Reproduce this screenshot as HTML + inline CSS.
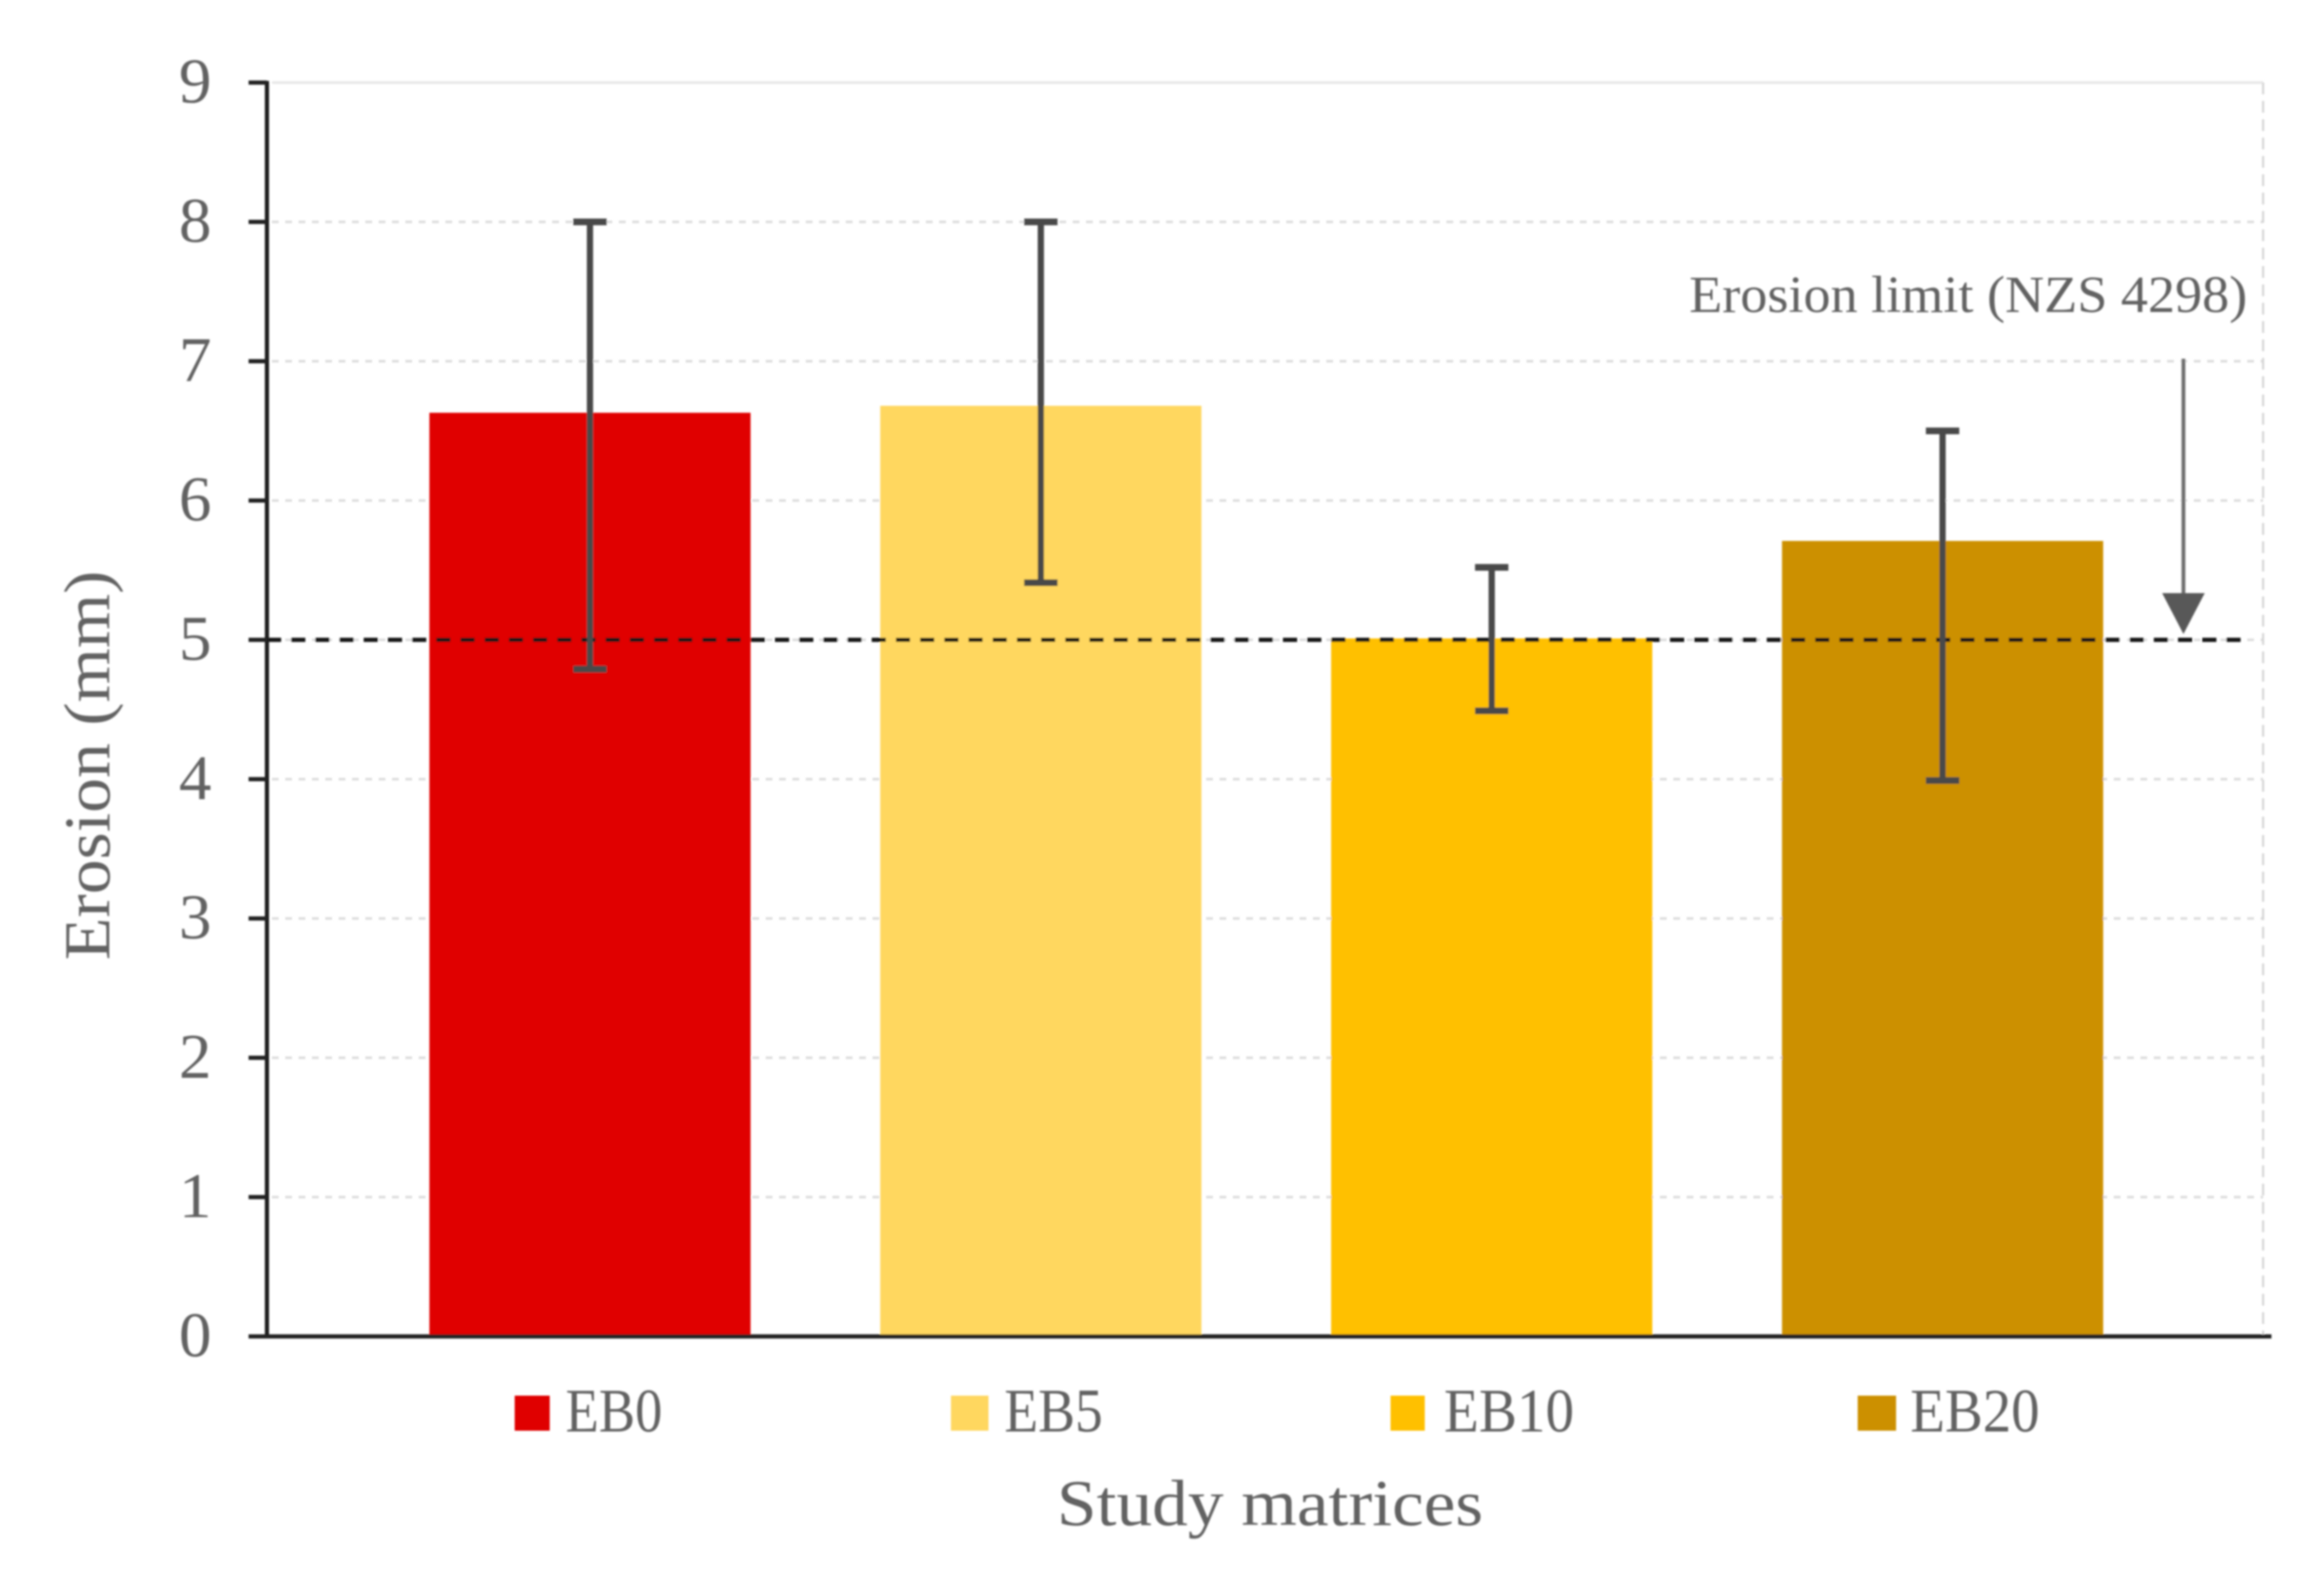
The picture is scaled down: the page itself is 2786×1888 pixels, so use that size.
<!DOCTYPE html>
<html lang="en">
<head>
<meta charset="utf-8">
<title>Erosion by study matrix</title>
<style>
html,body{margin:0;padding:0;background:#fff;width:2786px;height:1888px;overflow:hidden}
svg{display:block}
text{font-family:"Liberation Serif",serif;fill:#626262}
</style>
</head>
<body>
<svg id="chart" xmlns="http://www.w3.org/2000/svg" width="2786" height="1888" viewBox="0 0 2786 1888">
  <defs>
    <filter id="soft" x="-2%" y="-2%" width="104%" height="104%"><feGaussianBlur stdDeviation="1"/></filter>
  </defs>
  <rect width="2786" height="1888" fill="#fff"/>
  <g id="root" filter="url(#soft)">
    <g id="grid"></g>
    <g id="bars"></g>
    <g id="limit"></g>
    <g id="errors"></g>
    <g id="axes"></g>
    <g id="yticks"></g>

    <text transform="translate(131,1151) rotate(-90)" font-size="78" textLength="467" lengthAdjust="spacingAndGlyphs">Erosion (mm)</text>
    <text x="1267" y="1828" font-size="78" textLength="511" lengthAdjust="spacingAndGlyphs">Study matrices</text>
    <text x="2025" y="374" font-size="62" textLength="669" lengthAdjust="spacingAndGlyphs">Erosion limit (NZS 4298)</text>

    <g>
      <line x1="2617.5" y1="430" x2="2617.5" y2="715" stroke="#6e6e6e" stroke-width="4.5"/>
      <polygon points="2592,711 2643,711 2617.5,760" fill="#595959"/>
    </g>

    <g>
      <g>
        <rect x="617" y="1673" width="42" height="42" fill="#e00000"/>
        <text x="678" y="1716" font-size="74" textLength="116" lengthAdjust="spacingAndGlyphs">EB0</text>
      </g>
      <g>
        <rect x="1140" y="1673" width="45" height="42" fill="#ffd75e"/>
        <text x="1204" y="1716" font-size="74" textLength="118" lengthAdjust="spacingAndGlyphs">EB5</text>
      </g>
      <g>
        <rect x="1667" y="1673" width="41" height="42" fill="#ffc000"/>
        <text x="1731" y="1716" font-size="74" textLength="156" lengthAdjust="spacingAndGlyphs">EB10</text>
      </g>
      <g>
        <rect x="2227" y="1673" width="46" height="42" fill="#cc9000"/>
        <text x="2290" y="1716" font-size="74" textLength="155" lengthAdjust="spacingAndGlyphs">EB20</text>
      </g>
    </g>
  </g>
</svg>
<script>
const categories = ['EB0', 'EB5', 'EB10', 'EB20'];
const erosionValues = [6.63, 6.68, 5.01, 5.71];
const errorHigh = [8.0, 8.0, 5.52, 6.5];
const errorLow = [4.79, 5.41, 4.49, 3.99];
const barColors = ['#e00000', '#ffd75e', '#ffc000', '#cc9000'];
const yTickLabels = [0, 1, 2, 3, 4, 5, 6, 7, 8, 9];
const erosionLimit = 5;

const NS = 'http://www.w3.org/2000/svg';
const plotLeft = 320, plotRight = 2713, axisRight = 2723;
const yZero = 1602, yUnit = 167;
const bandLeft = 437, bandStep = 540.5, barWidth = 385, capHalf = 20;

function yScale(v) { return yZero - v * yUnit; }
function xCenter(i) { return bandLeft + bandStep * (i + 0.5); }
function make(tag, parent, attrs) {
  const el = document.createElementNS(NS, tag);
  for (const k in attrs) el.setAttribute(k, attrs[k]);
  parent.appendChild(el);
  return el;
}

const gridG = document.getElementById('grid');
const barsG = document.getElementById('bars');
const limitG = document.getElementById('limit');
const errG = document.getElementById('errors');
const axesG = document.getElementById('axes');
const tickG = document.getElementById('yticks');

yTickLabels.forEach(function (t) {
  const y = yScale(t);
  if (t > 0) {
    const top = t === yTickLabels[yTickLabels.length - 1];
    const gl = make('line', gridG, {
      x1: plotLeft + 6, x2: plotRight, y1: y, y2: y,
      stroke: top ? '#e6e6e6' : '#dcdcdc', 'stroke-width': 3,
      'stroke-dasharray': top ? 'none' : '8 8'
    });
    
    
  }
  const tk = make('line', tickG, {
    x1: 298, x2: plotLeft, y1: y, y2: y, stroke: '#222', 'stroke-width': 5
  });
  
  
  const lb = make('text', tickG, {
    x: 234, y: y + 24, 'font-size': 76, 'text-anchor': 'middle',
    textLength: 39, lengthAdjust: 'spacingAndGlyphs'
  });
  lb.textContent = String(t);
  
  
});

const rightEdge = make('line', gridG, {
  x1: plotRight, x2: plotRight, y1: yScale(9), y2: yZero,
  stroke: '#d4d4d4', 'stroke-width': 2.5, 'stroke-dasharray': '14 8'
});



categories.forEach(function (c, i) {
  const b = make('rect', barsG, {
    x: xCenter(i) - barWidth / 2,
    y: yScale(erosionValues[i]),
    width: barWidth,
    height: yZero - yScale(erosionValues[i]),
    fill: barColors[i]
  });
  
  
});

const limitLine = make('line', limitG, {
  x1: plotLeft, x2: 2690, y1: yScale(erosionLimit), y2: yScale(erosionLimit),
  stroke: '#161616', 'stroke-width': 5, 'stroke-dasharray': '17 12'
});



categories.forEach(function (c, i) {
  const x = xCenter(i);
  const hi = yScale(errorHigh[i]);
  const lo = yScale(errorLow[i]);
  const stem = make('line', errG, { x1: x, x2: x, y1: hi, y2: lo, stroke: '#4a4a4a', 'stroke-width': 7.5 });
  
  
  const capTop = make('line', errG, { x1: x - capHalf, x2: x + capHalf, y1: hi, y2: hi, stroke: '#4a4a4a', 'stroke-width': 8 });
  
  
  const capLow = make('line', errG, { x1: x - capHalf, x2: x + capHalf, y1: lo, y2: lo, stroke: '#4a4a4a', 'stroke-width': 8 });
  
  
});

const yAxis = make('line', axesG, { x1: plotLeft, x2: plotLeft, y1: yScale(9) - 2, y2: yZero, stroke: '#1a1a1a', 'stroke-width': 5 });


const xAxis = make('line', axesG, { x1: 298, x2: axisRight, y1: yZero, y2: yZero, stroke: '#222', 'stroke-width': 5 });


</script>
</body>
</html>
